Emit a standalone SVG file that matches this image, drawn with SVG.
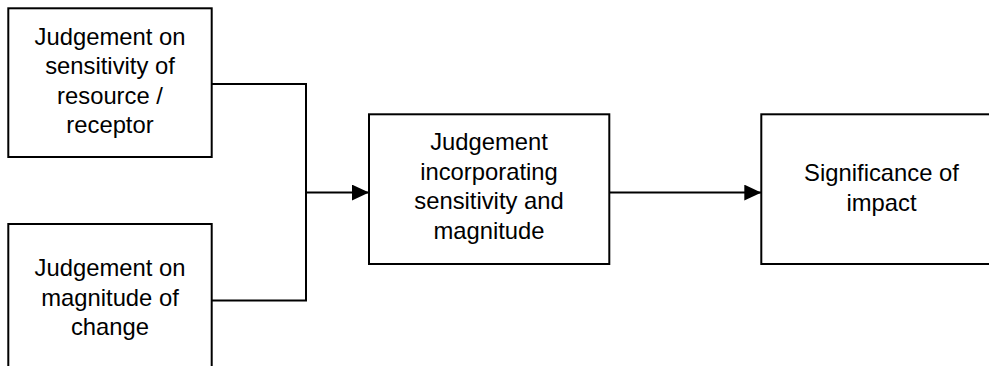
<svg xmlns="http://www.w3.org/2000/svg" width="989" height="366" viewBox="0 0 989 366">
  <style>
    .box { fill: #ffffff; stroke: #000000; stroke-width: 2; }
    .lbl { font-family: "Liberation Sans", Arial, sans-serif; font-size: 23.8px; fill: #000000; text-anchor: middle; }
    .wire { fill: none; stroke: #000000; stroke-width: 2; }
  </style>
  <defs>
    <marker id="arrow" markerUnits="userSpaceOnUse" markerWidth="17" markerHeight="16" refX="17" refY="8" orient="auto">
      <path d="M0,0 L17,8 L0,16 Z" fill="#000000"/>
    </marker>
  </defs>
  <rect width="989" height="366" fill="#ffffff"/>

  <g id="connectors">
    <polyline class="wire" points="211.7,84 306,84 306,300.5 211.7,300.5"/>
    <line class="wire" x1="306" y1="192.6" x2="369" y2="192.6" marker-end="url(#arrow)"/>
    <line class="wire" x1="609.3" y1="192.6" x2="761.3" y2="192.6" marker-end="url(#arrow)"/>
  </g>

  <g id="sensitivity">
    <rect class="box" x="8.3" y="8.3" width="203.4" height="148.7"/>
    <text class="lbl" x="110" y="44.5">Judgement on</text>
    <text class="lbl" x="110" y="74">sensitivity of</text>
    <text class="lbl" x="110" y="103.5">resource /</text>
    <text class="lbl" x="110" y="133">receptor</text>
  </g>

  <g id="magnitude">
    <rect class="box" x="8.3" y="224" width="203.4" height="160"/>
    <text class="lbl" x="110" y="276">Judgement on</text>
    <text class="lbl" x="110" y="305.5">magnitude of</text>
    <text class="lbl" x="110" y="335">change</text>
  </g>

  <g id="combined">
    <rect class="box" x="369" y="114.3" width="240.3" height="149.7"/>
    <text class="lbl" x="489" y="150">Judgement</text>
    <text class="lbl" x="489" y="179.5">incorporating</text>
    <text class="lbl" x="489" y="209">sensitivity and</text>
    <text class="lbl" x="489" y="238.5">magnitude</text>
  </g>

  <g id="significance">
    <rect class="box" x="761.3" y="114.3" width="240.7" height="149.7"/>
    <text class="lbl" x="881.5" y="181">Significance of</text>
    <text class="lbl" x="881.5" y="210.5">impact</text>
  </g>
</svg>
